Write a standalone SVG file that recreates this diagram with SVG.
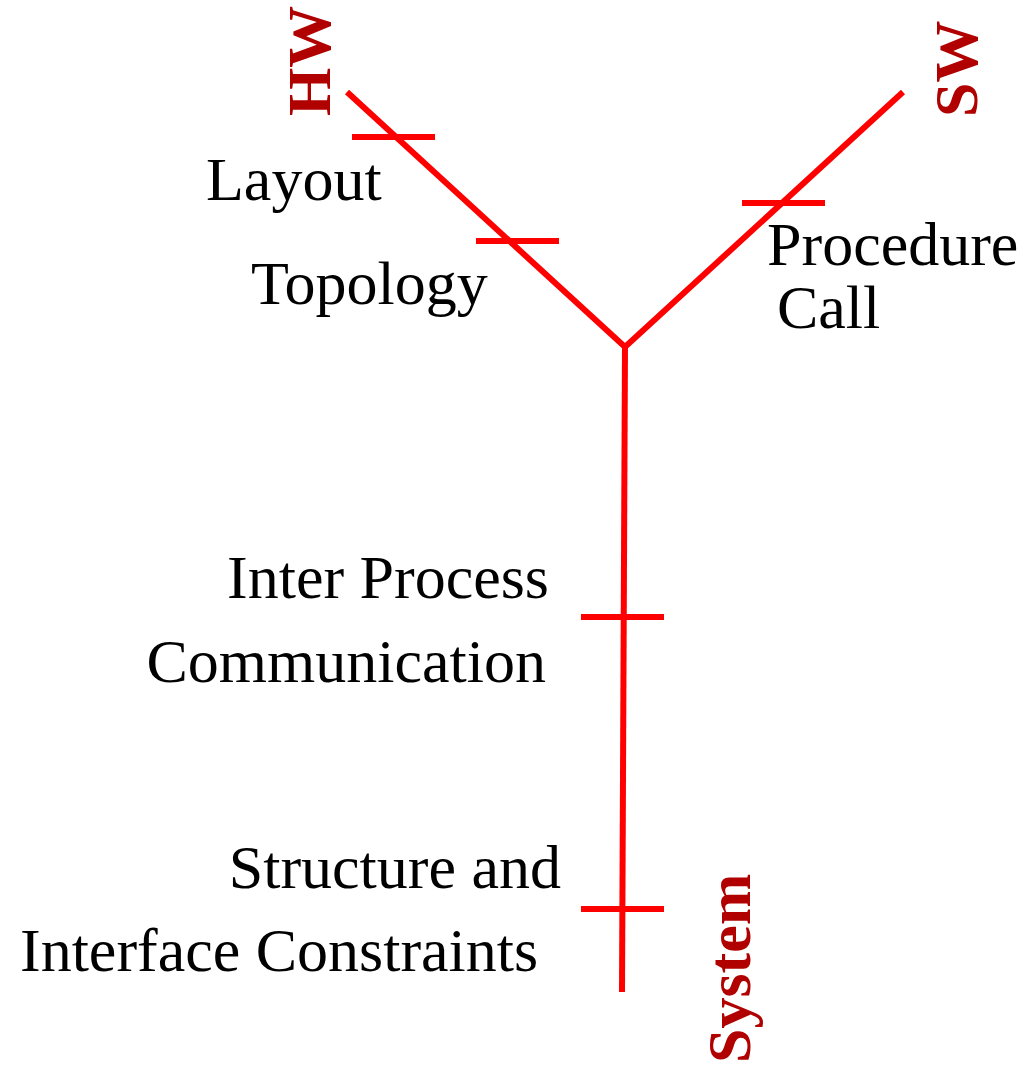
<svg xmlns="http://www.w3.org/2000/svg" width="1025" height="1066" viewBox="0 0 1025 1066">
<style>
.ln{stroke:#ff0000;stroke-width:6;fill:none}
.lbl{font-family:"Liberation Serif","Times New Roman",serif;font-size:62px;fill:#000}
.ax{font-family:"Liberation Serif","Times New Roman",serif;font-size:62px;font-weight:bold;fill:#b00000}
</style>
<rect width="1025" height="1066" fill="#fff"/>
<g id="connectors">
<polyline class="ln" points="347,92 625,347 903,92"/>
<line class="ln" x1="625" y1="345" x2="622" y2="992"/>
<line class="ln" x1="352" y1="137" x2="435" y2="137"/>
<line class="ln" x1="476" y1="241" x2="559" y2="241"/>
<line class="ln" x1="742" y1="203" x2="825" y2="203"/>
<line class="ln" x1="581" y1="617" x2="664" y2="617"/>
<line class="ln" x1="581" y1="909" x2="664" y2="909"/>
</g>
<g id="hw"><text class="ax" transform="translate(330,116) rotate(-90)">HW</text></g>
<g id="sw"><text class="ax" transform="translate(977,117) rotate(-90)">SW</text></g>
<g id="system"><text class="ax" transform="translate(750,1063) rotate(-90)">System</text></g>
<g id="layout"><text class="lbl" x="206" y="200">Layout</text></g>
<g id="topology"><text class="lbl" x="251" y="304">Topology</text></g>
<g id="procedure-call"><text class="lbl" x="767" y="265">Procedure</text><text class="lbl" x="777" y="328">Call</text></g>
<g id="ipc"><text class="lbl" x="549" y="598" text-anchor="end">Inter Process</text><text class="lbl" x="546" y="682" text-anchor="end">Communication</text></g>
<g id="constraints"><text class="lbl" x="561" y="888" text-anchor="end">Structure and</text><text class="lbl" x="20" y="971">Interface Constraints</text></g>
</svg>
